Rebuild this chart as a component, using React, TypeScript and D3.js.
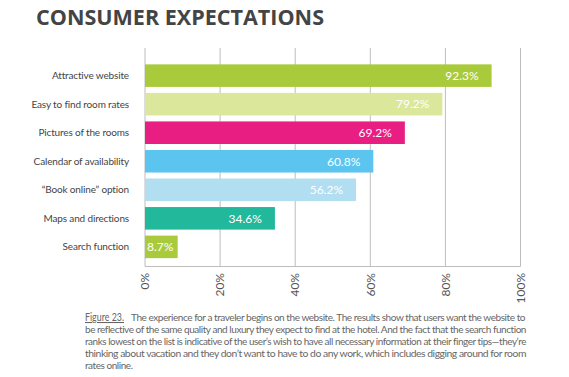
import React from "react";
import * as d3 from "d3";

const categories = [
  "Attractive website",
  "Easy to find room rates",
  "Pictures of the rooms",
  "Calendar of availability",
  "\u201CBook online\u201D option",
  "Maps and directions",
  "Search function",
];
const values = [92.3, 79.2, 69.2, 60.8, 56.2, 34.6, 8.7];
const barColors = ["#a9cb3b", "#dbe89b", "#e81e83", "#5cc5ef", "#b2def1", "#22b89b", "#a9cb3b"];
const tickValues = [0, 20, 40, 60, 80, 100];
const titleText = "CONSUMER EXPECTATIONS";
const captionLines = [
  "The experience for a traveler begins on the website. The results show that users want the website to",
  "be reflective of the same quality and luxury they expect to find at the hotel. And the fact that the search function",
  "ranks lowest on the list is indicative of the user\u2019s wish to have all necessary information at their finger tips\u2014they\u2019re",
  "thinking about vacation and they don\u2019t want to have to do any work, which includes digging around for room",
  "rates online.",
];
const figureLabel = "Figure 23.";

export default function App() {
  const W = 569, H = 377;
  const x = d3.scaleLinear().domain([0, 100]).range([145, 520.5]);
  const y = d3.scaleBand<string>().domain(categories).range([61.5, 261]).paddingInner(0.21).paddingOuter(0.1);
  const axisY = 266.5;
  const font = "Lato, 'Open Sans', sans-serif";
  const lens = [394, 441, 441, 441, 0];
  return (
    <svg width={W} height={H} style={{ position: "absolute", left: 0, top: 0, background: "#fff" }}>
      <text x={36} y={24.5} fontFamily="'Open Sans', sans-serif" fontWeight={700} fontSize={21} fill="#444"
        textLength={288} lengthAdjust="spacingAndGlyphs">{titleText}</text>
      {tickValues.map((t) => (
        <line key={"g" + t} x1={x(t)} x2={x(t)} y1={48} y2={axisY} stroke="#bdbdbd" strokeWidth={1} />
      ))}
      <line x1={x(0)} x2={x(100)} y1={axisY} y2={axisY} stroke="#bdbdbd" strokeWidth={1} />
      {categories.map((c, i) => {
        const bx = x(0), bw = x(values[i]) - x(0);
        const by = y(c)!, bh = y.bandwidth();
        const cy = by + bh / 2;
        const small = values[i] < 15;
        return (
          <g key={c}>
            <rect x={bx} y={by} width={bw} height={bh} fill={barColors[i]} />
            <text x={129} y={cy} dy="0.35em" textAnchor="end" fontFamily={font} fontSize={10} letterSpacing={-0.15} fill="#444">{c}</text>
            <text x={small ? bx + 2 : x(values[i]) - 13} y={cy} dy="0.36em" textAnchor={small ? "start" : "end"}
              fontFamily={font} fontSize={12} fill="#fff">{values[i].toFixed(1) + "%"}</text>
          </g>
        );
      })}
      {tickValues.map((t) => (
        <text key={"t" + t} transform={`translate(${x(t)},${273}) rotate(-90)`} dy="0.35em" textAnchor="end"
          fontFamily={font} fontSize={12} fill="#555">{t + "%"}</text>
      ))}
      <g fontFamily={font} fontSize={10} letterSpacing={-0.45} fill="#666">
        <text x={85} y={321} textDecoration="underline" fontSize={10.5} letterSpacing={0}
          textLength={39} lengthAdjust="spacingAndGlyphs">{figureLabel}</text>
        {captionLines.map((l, i) => {
          const yy = 321 + i * 12;
          const tx = i === 0 ? 131 : 85;
          return (
            <text key={i} x={tx} y={yy} {...(lens[i] ? { textLength: lens[i], lengthAdjust: "spacingAndGlyphs" } : {})}>{l}</text>
          );
        })}
      </g>
    </svg>
  );
}
